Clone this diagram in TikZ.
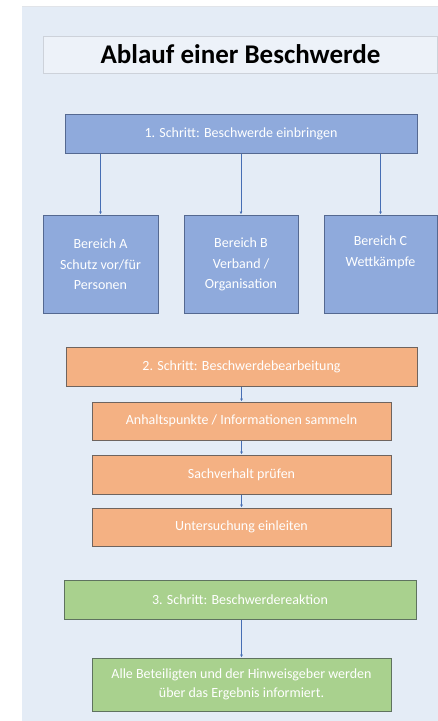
\documentclass[tikz,border=0pt]{standalone}
\usepackage{fontspec}
\setmainfont{Carlito}
\usetikzlibrary{positioning,arrows.meta}
\definecolor{bgblue}{RGB}{228,236,246}
\definecolor{titlefill}{RGB}{237,242,249}
\definecolor{titleline}{RGB}{205,210,218}
\definecolor{blfill}{RGB}{143,170,220}
\definecolor{blline}{RGB}{85,105,145}
\definecolor{orfill}{RGB}{244,177,131}
\definecolor{orline}{RGB}{110,100,95}
\definecolor{grfill}{RGB}{169,209,142}
\definecolor{grline}{RGB}{95,115,95}
\definecolor{arrline}{RGB}{70,110,180}
\tikzset{
titlebox/.style={
  draw=titleline,
  fill=titlefill,
  line width=0.8pt,
  minimum width=394pt,
  minimum height=37pt,
  inner sep=0pt,
  font=\fontsize{27}{30}\selectfont\bfseries
  },
stepbox/.style={
  draw,
  line width=1pt,
  text=white,
  align=center,
  inner sep=0pt,
  font=\fontsize{14}{20}\selectfont
  },
bluebox/.style={stepbox,fill=blfill,draw=blline},
orangebox/.style={stepbox,fill=orfill,draw=orline},
greenbox/.style={stepbox,fill=grfill,draw=grline},
conn/.style={draw=arrline,line width=0.8pt,-{Latex[length=3pt,width=3pt]}}
}

\begin{document}
\begin{tikzpicture}[x=1pt,y=-1pt]
\useasboundingbox (0,0) rectangle (438,721);
\fill[bgblue] (22,6) rectangle (438,721);
\draw[titleline!60,line width=0.8pt] (22,6) -- (438,6);

\node[titlebox] (title) at (240.5,54.5) {Ablauf einer Beschwerde};

% 1. Schritt
\node[bluebox,minimum width=352pt,minimum height=39pt] (s1) at (241,133.5)
  {1. Schritt: Beschwerde einbringen};
\node[bluebox,minimum width=115pt,minimum height=98pt] (bA) at (100.5,264)
  {Bereich A\\[1pt]Schutz vor/für\\Personen};
\node[bluebox,minimum width=114pt,minimum height=98pt] (bB) at (241,264)
  {Bereich B\\[1pt]Verband /\\Organisation};
\node[bluebox,minimum width=113pt,minimum height=98pt] (bC) at (380.5,264)
  {Bereich C\\[1pt]Wettkämpfe\\\strut};

\draw[conn] (s1.south -| bA.north) -- (bA.north);
\draw[conn] (s1.south) -- (bB.north);
\draw[conn] (s1.south -| bC.north) -- (bC.north);

% 2. Schritt
\node[orangebox,minimum width=351pt,minimum height=39pt] (s2) at (241.5,366.5)
  {2. Schritt: Beschwerdebearbeitung};
\node[orangebox,minimum width=299pt,minimum height=38pt,below=15pt of s2] (info)
  {Anhaltspunkte / Informationen sammeln};
\node[orangebox,minimum width=299pt,minimum height=39pt,below=14pt of info] (pruef)
  {Sachverhalt prüfen};
\node[orangebox,minimum width=299pt,minimum height=38pt,below=13pt of pruef] (unters)
  {Untersuchung einleiten};

\draw[conn] (s2) -- (info);
\draw[conn] (info) -- (pruef);
\draw[conn] (pruef) -- (unters);

% 3. Schritt
\node[greenbox,minimum width=352pt,minimum height=39pt] (s3) at (240,599.5)
  {3. Schritt: Beschwerdereaktion};
\node[greenbox,minimum width=299pt,minimum height=53pt,
  font=\fontsize{14}{19}\selectfont] (ergeb) at (241.5,684.5)
  {Alle Beteiligten und der Hinweisgeber werden\\über das Ergebnis informiert.};

\draw[conn] (s3.south -| ergeb.north) -- (ergeb.north);
\end{tikzpicture}
\end{document}
